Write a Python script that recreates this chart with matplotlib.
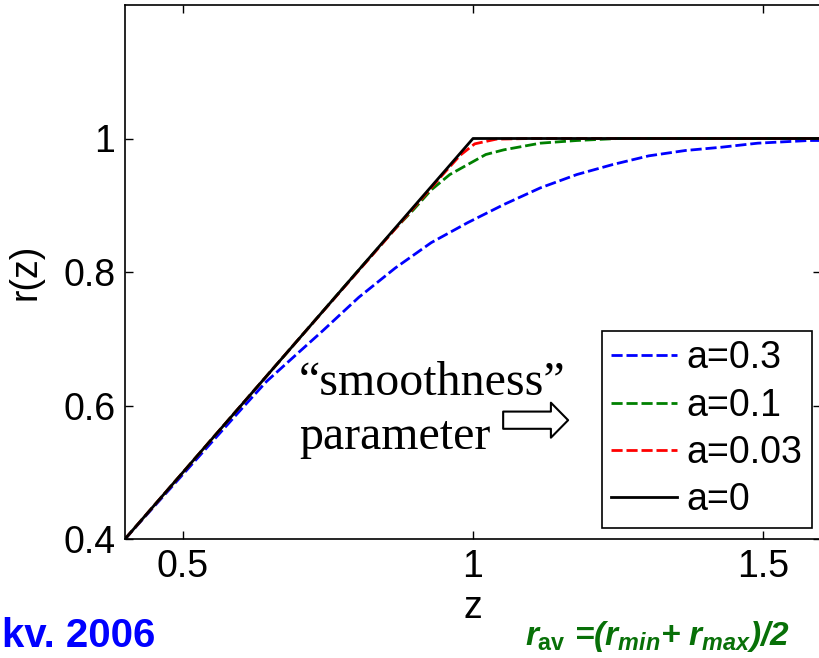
import matplotlib
matplotlib.use("Agg")
import matplotlib.pyplot as plt
from matplotlib import font_manager

# values
z_a03 = [0.40, 0.50, 0.60, 0.644, 0.70, 0.741, 0.803, 0.866, 0.928, 0.991, 1.053, 1.116,
         1.179, 1.241, 1.303, 1.366, 1.429, 1.491, 1.579, 1.60]
r_a03 = [0.40, 0.497, 0.594, 0.636, 0.680, 0.712, 0.762, 0.806, 0.844, 0.874, 0.901, 0.926,
         0.946, 0.961, 0.974, 0.982, 0.987, 0.993, 0.997, 0.997]

z_a01 = [0.40, 0.60, 0.80, 0.866, 0.897, 0.928, 0.960, 0.991, 1.022, 1.053, 1.116, 1.179, 1.25, 1.60]
r_a01 = [0.40, 0.60, 0.80, 0.865, 0.893, 0.923, 0.946, 0.961, 0.976, 0.983, 0.993, 0.997, 1.0, 1.0]

z_a003 = [0.40, 0.70, 0.95, 0.978, 1.003, 1.04, 1.10, 1.60]
r_a003 = [0.40, 0.70, 0.948, 0.975, 0.992, 0.999, 1.0, 1.0]

z_a0 = [0.40, 1.00, 1.60]
r_a0 = [0.40, 1.00, 1.00]

labels = ["a=0.3", "a=0.1", "a=0.03", "a=0"]
colors = ["#0000ff", "#008000", "#ff0000", "black"]

W, H = 819, 658


def fx(px):
    return px / W


def fy(py):
    return 1 - py / H


names = {f.name for f in font_manager.fontManager.ttflist}
narrow = "Liberation Sans Narrow" if "Liberation Sans Narrow" in names else "Liberation Sans"

plt.rcParams["font.family"] = ["Liberation Sans", "DejaVu Sans"]
plt.rcParams["mathtext.fontset"] = "custom"
plt.rcParams["mathtext.it"] = narrow + ":italic:bold"
plt.rcParams["mathtext.rm"] = narrow + ":bold"

fig = plt.figure(figsize=(W / 100, H / 100), dpi=100)
ax = fig.add_axes([fx(125), fy(539), fx(821) - fx(125), fy(5) - fy(539)])

dash = (4, 1.4)
ax.plot(z_a03, r_a03, color=colors[0], lw=2, ls=(0, dash), label=labels[0])
ax.plot(z_a01, r_a01, color=colors[1], lw=2, ls=(0, dash), label=labels[1])
ax.plot(z_a003, r_a003, color=colors[2], lw=2, ls=(0, dash), label=labels[2])
ax.plot(z_a0, r_a0, color=colors[3], lw=2, label=labels[3])

ax.set_xlim(0.4, 1.6)
ax.set_ylim(0.4, 1.2)
ax.set_xticks([0.5, 1, 1.5], ["0.5", "1", "1.5"])
ax.set_yticks([0.4, 0.6, 0.8, 1.0], ["0.4", "0.6", "0.8", "1"])
ax.tick_params(direction="in", length=6, width=1, labelsize=27, top=True, right=True, pad=7)
for s in ax.spines.values():
    s.set_linewidth(1.2)

ax.set_xlabel("z", fontsize=27, labelpad=4)
ax.set_ylabel("r(z)", fontsize=27, labelpad=14)

leg = ax.legend(loc="upper left", bbox_to_anchor=(fx(602), fy(331)), bbox_transform=fig.transFigure,
                fontsize=27, frameon=True, fancybox=False, edgecolor="black", framealpha=1,
                handlelength=1.75, handletextpad=0.25, borderpad=0.25, labelspacing=0.3,
                borderaxespad=0)
leg.get_frame().set_linewidth(1.2)

fig.text(fx(299), fy(395), "\u201csmoothness\u201d", fontsize=34.5, family="Liberation Serif",
         ha="left", va="baseline")
fig.text(fx(299), fy(449), "parameter", fontsize=34.5, family="Liberation Serif",
         ha="left", va="baseline")

ax.annotate("", xy=(1.164, 0.578), xytext=(1.052, 0.578), xycoords="data",
            arrowprops=dict(arrowstyle="simple,head_width=1.26,head_length=0.62,tail_width=0.62",
                            fc="white", ec="black", lw=1.5, mutation_scale=20,
                            shrinkA=0, shrinkB=0))

fig.text(fx(2), fy(647), "kv. 2006", fontsize=29, family=narrow, weight="bold",
         color="#0000ff", ha="left", va="baseline")
fig.text(fx(790), fy(645), r"$r_{\mathrm{av}}$ =($r_{min}$+ $r_{max}$)/2", fontsize=24,
         family=narrow, weight="bold", style="italic", color="#087008",
         ha="right", va="baseline")

fig.savefig("out.png", dpi=100)
